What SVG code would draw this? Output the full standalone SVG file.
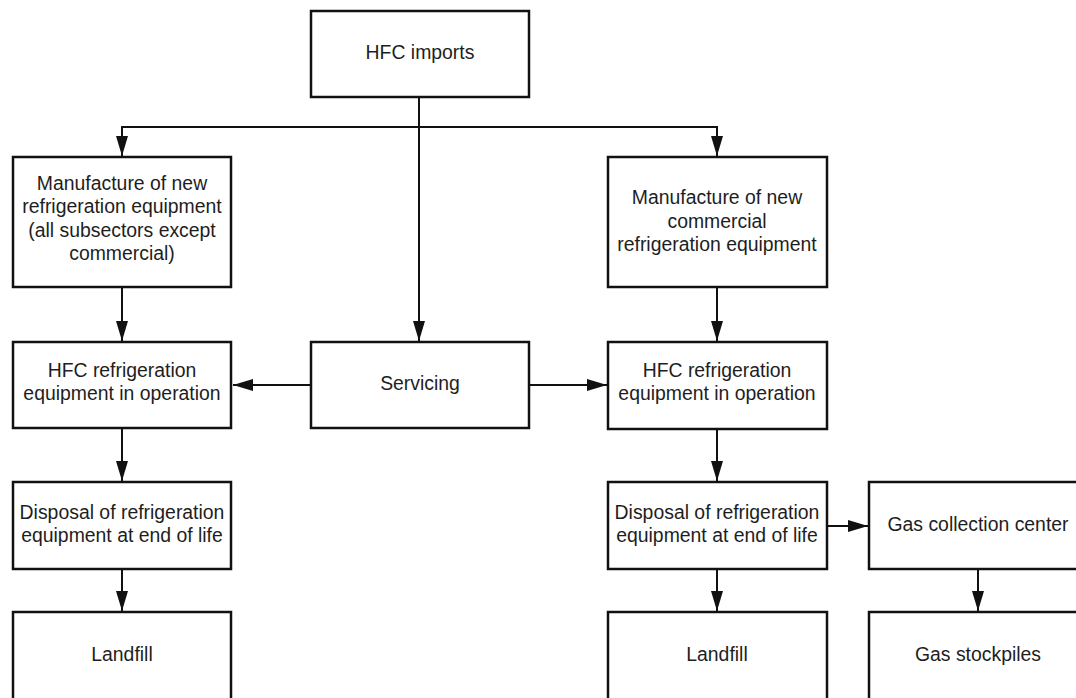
<svg xmlns="http://www.w3.org/2000/svg" width="1076" height="698" viewBox="0 0 1076 698">
<style>
.box{fill:#fff;stroke:#111;stroke-width:2.5}
.lbl{font-family:"Liberation Sans",Arial,sans-serif;font-size:19.4px;fill:#1e1e1e;text-anchor:middle}
.con{fill:none;stroke:#111;stroke-width:2}
</style>
<defs>
<marker id="ah" markerUnits="userSpaceOnUse" markerWidth="20" markerHeight="13" refX="20" refY="6.5" orient="auto">
<path d="M0,0.5 L20,6.5 L0,12.5 Z" fill="#111"/>
</marker>
</defs>
<rect width="1076" height="698" fill="#fff"/>
<g id="connectors">
<path class="con" d="M419,97 V341" marker-end="url(#ah)"/>
<path class="con" d="M419,127 H122 V156" marker-end="url(#ah)"/>
<path class="con" d="M419,127 H717 V156" marker-end="url(#ah)"/>
<path class="con" d="M122,287 V341" marker-end="url(#ah)"/>
<path class="con" d="M122,428 V481" marker-end="url(#ah)"/>
<path class="con" d="M122,569 V611" marker-end="url(#ah)"/>
<path class="con" d="M717,287 V341" marker-end="url(#ah)"/>
<path class="con" d="M717,429 V481" marker-end="url(#ah)"/>
<path class="con" d="M717,569 V611" marker-end="url(#ah)"/>
<path class="con" d="M311,385 H233" marker-end="url(#ah)"/>
<path class="con" d="M529,385 H607" marker-end="url(#ah)"/>
<path class="con" d="M827,526 H868" marker-end="url(#ah)"/>
<path class="con" d="M978,569 V611" marker-end="url(#ah)"/>
</g>
<g id="hfc-imports">
<rect class="box" x="311" y="11" width="218" height="86"/>
<text class="lbl" x="420" y="58.5">HFC imports</text>
</g>
<g id="manufacture-left">
<rect class="box" x="13" y="157" width="218" height="130"/>
<text class="lbl" x="122" y="189.5">Manufacture of new</text>
<text class="lbl" x="122" y="213">refrigeration equipment</text>
<text class="lbl" x="122" y="236.5">(all subsectors except</text>
<text class="lbl" x="122" y="260">commercial)</text>
</g>
<g id="manufacture-right">
<rect class="box" x="608" y="157" width="219" height="130"/>
<text class="lbl" x="717" y="204">Manufacture of new</text>
<text class="lbl" x="717" y="227.5">commercial</text>
<text class="lbl" x="717" y="251">refrigeration equipment</text>
</g>
<g id="operation-left">
<rect class="box" x="13" y="342" width="218" height="86"/>
<text class="lbl" x="122" y="377">HFC refrigeration</text>
<text class="lbl" x="122" y="400">equipment in operation</text>
</g>
<g id="servicing">
<rect class="box" x="311" y="342" width="218" height="86"/>
<text class="lbl" x="420" y="390">Servicing</text>
</g>
<g id="operation-right">
<rect class="box" x="608" y="342" width="219" height="87"/>
<text class="lbl" x="717" y="377">HFC refrigeration</text>
<text class="lbl" x="717" y="400">equipment in operation</text>
</g>
<g id="disposal-left">
<rect class="box" x="13" y="482" width="218" height="87"/>
<text class="lbl" x="122" y="519">Disposal of refrigeration</text>
<text class="lbl" x="122" y="542">equipment at end of life</text>
</g>
<g id="disposal-right">
<rect class="box" x="608" y="482" width="219" height="87"/>
<text class="lbl" x="717" y="519">Disposal of refrigeration</text>
<text class="lbl" x="717" y="542">equipment at end of life</text>
</g>
<g id="gas-collection">
<rect class="box" x="869" y="482" width="218" height="87"/>
<text class="lbl" x="978" y="531">Gas collection center</text>
</g>
<g id="landfill-left">
<rect class="box" x="13" y="612" width="218" height="90"/>
<text class="lbl" x="122" y="661">Landfill</text>
</g>
<g id="landfill-right">
<rect class="box" x="608" y="612" width="219" height="90"/>
<text class="lbl" x="717" y="661">Landfill</text>
</g>
<g id="gas-stockpiles">
<rect class="box" x="869" y="612" width="218" height="90"/>
<text class="lbl" x="978" y="661">Gas stockpiles</text>
</g>
</svg>
